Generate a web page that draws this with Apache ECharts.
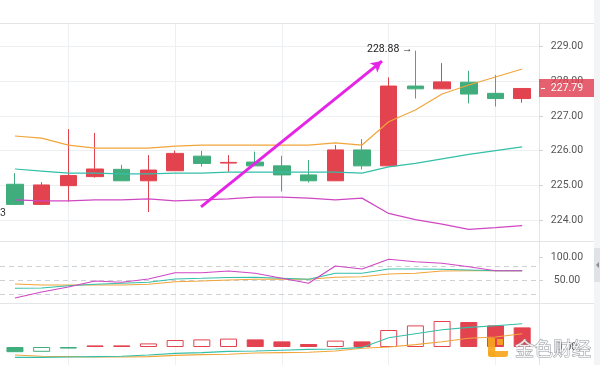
<!DOCTYPE html>
<html><head><meta charset="utf-8">
<script src="https://cdn.jsdelivr.net/npm/echarts@6/dist/echarts.min.js"></script>
<style>html,body{margin:0;padding:0;background:#fff}#c{width:600px;height:365px}</style>
</head><body><div id="c"></div>
<script>
// ---------- data ----------
const categories = ['K1','K2','K3','K4','K5','K6','K7','K8','K9','K10','K11','K12','K13','K14','K15','K16','K17','K18','K19','K20'];
const open  = [225.03,224.45,224.99,225.25,225.46,225.13,225.42,225.84,225.64,225.67,225.56,225.30,225.13,226.02,225.56,227.86,227.78,227.97,227.65,227.50];
const close = [224.45,225.01,225.28,225.47,225.13,225.44,225.92,225.63,225.66,225.56,225.30,225.13,226.02,225.56,227.86,227.78,227.98,227.63,227.50,227.79];
const low   = [224.43,224.43,224.53,225.22,225.13,224.23,225.42,225.54,225.39,225.56,224.82,225.08,225.13,225.46,225.56,227.50,227.78,227.36,227.27,227.38];
const high  = [225.35,225.09,226.62,226.51,225.59,225.87,226.00,225.99,225.87,225.97,225.85,225.73,226.16,226.33,228.11,228.88,228.52,228.30,228.18,227.79];

const bollUpper = [226.42,226.36,226.16,226.07,226.07,226.07,226.13,226.16,226.16,226.16,226.16,226.16,226.22,226.16,226.83,227.17,227.63,227.89,228.12,228.35];
const bollMid   = [225.47,225.41,225.35,225.35,225.33,225.33,225.35,225.35,225.38,225.38,225.38,225.38,225.38,225.35,225.53,225.63,225.76,225.89,226.00,226.11];
const bollLower = [224.58,224.55,224.55,224.58,224.58,224.61,224.55,224.58,224.61,224.66,224.66,224.63,224.58,224.63,224.19,224.01,223.88,223.73,223.78,223.84];

const kdjK = [32.0,32.6,37.6,40.7,42.8,45.0,52.2,53.7,55.4,55.9,53.7,51.5,64.6,64.6,73.9,73.9,73.3,71.7,70.2,70.2];
const kdjD = [41.3,39.1,39.1,39.1,39.1,40.7,46.3,47.8,50.0,51.5,52.2,51.5,55.9,57.2,63.0,64.6,69.6,70.2,70.2,70.2];
const kdjJ = [10.9,23.9,34.8,47.8,45.0,52.2,65.9,65.9,69.6,64.6,53.7,42.8,80.4,73.9,95.0,89.8,86.3,78.9,70.2,70.2];

const macdDif  = [-0.26,-0.26,-0.25,-0.24,-0.23,-0.20,-0.16,-0.14,-0.11,-0.10,-0.08,-0.06,-0.05,-0.01,0.23,0.33,0.43,0.49,0.53,0.58];
const macdDea  = [-0.20,-0.23,-0.24,-0.25,-0.25,-0.24,-0.21,-0.19,-0.18,-0.15,-0.14,-0.13,-0.10,-0.03,0.00,0.06,0.13,0.22,0.25,0.33];
const macdHist = [-0.13,-0.12,-0.04,0.04,0.04,0.09,0.175,0.19,0.21,0.19,0.14,0.075,0.16,0.14,0.425,0.54,0.65,0.625,0.54,0.49];

const priceTicks = [224,225,226,227,228,229];
const kdjTicks = [50,100];
const kdjLevels = [20,50,80];
const macdTicks = [0];
const gridMarks = [2,6,10,14,18];          // slots with vertical grid lines
const arrowFrom = [6.97,224.38];           // hand-drawn trend arrow (slot, price)
const arrowTo   = [13.75,228.58];

// ---------- styling ----------
const RED='#e2434f', GREEN='#40ad7c', ORANGE='#f1a53a', TEAL='#34bfa9', MAGENTA='#cf47c3', PINK='#e524e6';
const GRID_C='#edf0f3', SEP_C='#e3e5e8';
const FONT='Roboto';
const XMIN=-0.56, XMAX=19.63;
const idx = categories.map((_,i)=>i);
const pairs = arr => arr.map((v,i)=>[i,v]);

const grids = [
  {left:0,right:61,top:23,height:218},
  {left:0,right:61,top:241,height:62},
  {left:0,right:61,top:303,height:62}
];
const xAxis = [0,1,2].map(g=>({type:'value',gridIndex:g,min:XMIN,max:XMAX,show:false}));
const axisCommon = {
  type:'value', position:'right', scale:true,
  axisLine:{show:true,onZero:false,lineStyle:{color:'#e2e4e7'}},
  axisTick:{show:true,length:4,lineStyle:{color:'#d2d4d8'}},
};
const labelCommon = {align:'center',margin:28,color:'#555',fontSize:10.5,fontFamily:FONT};
const near = (v,list)=>list.some(t=>Math.abs(v-t)<1e-6);
const yAxis = [
  Object.assign({},axisCommon,{gridIndex:0,min:223.395,max:229.677,minInterval:1,maxInterval:1,
    splitLine:{show:true,lineStyle:{color:GRID_C}},
    axisLabel:Object.assign({},labelCommon,{formatter:v=>near(v,priceTicks)?v.toFixed(2):''})}),
  Object.assign({},axisCommon,{gridIndex:1,min:0,max:134.8,interval:50,
    splitLine:{show:false},
    axisLabel:Object.assign({},labelCommon,{formatter:v=>near(v,kdjTicks)?v.toFixed(2):''})}),
  Object.assign({},axisCommon,{gridIndex:2,min:-0.45,max:1.1,
    splitLine:{show:false},axisTick:{show:false},
    axisLabel:Object.assign({},labelCommon,{formatter:v=>near(v,macdTicks)?'0.00':''})})
];

const vGrid = g => ({
  type:'line', xAxisIndex:g, yAxisIndex:g, data:[], z:0, silent:true,
  markLine:{z:0,silent:true,symbol:['none','none'],label:{show:false},
    lineStyle:{color:GRID_C,width:1,type:'solid'},
    data:gridMarks.map(m=>({xAxis:m}))}
});
const line = (g,arr,color,w,z)=>({type:'line',xAxisIndex:g,yAxisIndex:g,data:pairs(arr),
  showSymbol:false,symbol:'none',smooth:false,z:z||3,silent:true,
  lineStyle:{color:color,width:w||1}});

const histData = macdHist.map((v,i)=>{
  const hollow = i>0 && v>macdHist[i-1];
  const c = v>=0?RED:GREEN;
  return {value:[i,v],itemStyle:{color:hollow?'#fff':c,borderColor:c,borderWidth:1}};
});

const option = {
  animation:false,
  backgroundColor:'#fff',
  grid:grids, xAxis:xAxis, yAxis:yAxis,
  series:[
    vGrid(0), vGrid(1), vGrid(2),
    {type:'candlestick',xAxisIndex:0,yAxisIndex:0,barWidth:17,z:2,silent:true,
      data:idx.map(i=>[i,open[i],close[i],low[i],high[i]]),
      itemStyle:{color:RED,color0:GREEN,borderColor:RED,borderColor0:GREEN,borderWidth:1}},
    line(0,bollUpper,ORANGE,1.2),
    line(0,bollMid,TEAL,1.2),
    line(0,bollLower,MAGENTA,1.2),
    {type:'line',xAxisIndex:0,yAxisIndex:0,data:[arrowFrom,arrowTo],showSymbol:false,symbol:'none',
      lineStyle:{opacity:0},z:6,silent:true,
      markLine:{z:6,silent:true,symbol:['none','arrow'],symbolSize:[9,11],label:{show:false},
        lineStyle:{color:PINK,width:3,type:'solid',opacity:1},
        data:[[{coord:arrowFrom},{coord:arrowTo}]]}},
    {type:'line',xAxisIndex:1,yAxisIndex:1,data:[],z:0,silent:true,
      markLine:{z:0,silent:true,symbol:['none','none'],label:{show:false},
        lineStyle:{color:'#cfd1d4',width:1,type:[5,4]},
        data:kdjLevels.map(v=>({yAxis:v}))}},
    line(1,kdjD,ORANGE,1.1,3),
    line(1,kdjK,TEAL,1.1,4),
    line(1,kdjJ,MAGENTA,1.1,5),
    {type:'bar',xAxisIndex:2,yAxisIndex:2,barWidth:17,z:2,silent:true,data:histData},
    line(2,macdDea,ORANGE,1.1,4),
    line(2,macdDif,TEAL,1.1,5)
  ]
};

const chart = echarts.init(document.getElementById('c'),null,{renderer:'canvas'});
chart.setOption(option);

// ---------- overlays computed through the chart's scales ----------
const px = (x,y)=>chart.convertToPixel({gridIndex:0},[x,y]);
const lastClose = close[close.length-1];
const tagY = px(0,lastClose)[1];
let iMax=0; high.forEach((v,i)=>{if(v>high[iMax]) iMax=i;});
let iMin=0; low.forEach((v,i)=>{if(v<low[iMin]) iMin=i;});
const pMax = px(iMax,high[iMax]);
const pMin = px(iMin,low[iMin]);

const graphic = [
  {type:'rect',z:100,shape:{x:594,y:0,width:6,height:365},style:{fill:'#f3f4f6'}},
  {type:'rect',z:101,shape:{x:594,y:248,width:6,height:34},style:{fill:'#dfe2e6'}},
  {type:'polygon',z:102,shape:{points:[[596,265],[599,262],[599,268]]},style:{fill:'#8a8d92'}},
  {type:'line',z:90,shape:{x1:0,y1:23.5,x2:594,y2:23.5},style:{stroke:SEP_C,lineWidth:1}},
  {type:'line',z:90,shape:{x1:0,y1:241.5,x2:594,y2:241.5},style:{stroke:SEP_C,lineWidth:1}},
  {type:'line',z:90,shape:{x1:0,y1:303.5,x2:594,y2:303.5},style:{stroke:SEP_C,lineWidth:1}},
  // current price tag
  {type:'rect',z:110,shape:{x:539,y:tagY-9.5,width:55,height:18},style:{fill:'rgba(224,58,76,0.8)'}},
  {type:'line',z:111,shape:{x1:541,y1:tagY,x2:545,y2:tagY},style:{stroke:'#fff',lineWidth:1}},
  {type:'text',z:112,x:567,y:tagY,style:{text:lastClose.toFixed(2),fill:'#fff',font:'10.5px '+FONT,textAlign:'center',textVerticalAlign:'middle'}},
  // max / min labels
  {type:'text',z:112,x:pMax[0]-3,y:pMax[1]-1,style:{text:high[iMax].toFixed(2)+' \u2192',fill:'#222',font:'10.5px '+FONT,textAlign:'right',textVerticalAlign:'middle'}},
  {type:'text',z:112,x:6,y:pMin[1]+1,style:{text:low[iMin].toFixed(2),fill:'#333',font:'10.5px '+FONT,textAlign:'right',textVerticalAlign:'middle'}},
  // watermark
  {type:'rect',z:120,shape:{x:488,y:338,width:7,height:19,r:[0,0,0,3]},style:{fill:'rgba(246,166,30,0.92)'}},
  {type:'rect',z:120,shape:{x:488,y:351,width:20,height:6,r:[0,0,3,3]},style:{fill:'rgba(246,166,30,0.92)'}},
  {type:'rect',z:120,shape:{x:497,y:339,width:6,height:6},style:{fill:'rgba(246,166,30,0.92)'}},
  {type:'text',z:121,x:515,y:349,style:{text:'金色财经',font:'19px "Noto Sans CJK SC"',fill:'rgba(255,255,255,0.85)',stroke:'rgba(140,144,152,0.9)',lineWidth:1,textVerticalAlign:'middle'}}
];
chart.setOption({graphic:graphic});
</script>
</body></html>
